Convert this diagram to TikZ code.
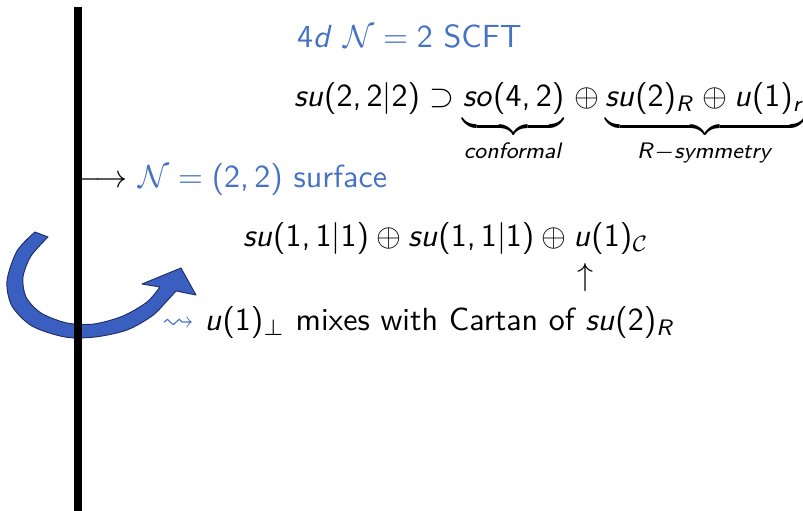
\documentclass[tikz,border=0pt]{standalone}
\usepackage{amssymb}
\DeclareSymbolFont{sfletters}{OT1}{cmss}{m}{sl}
\SetSymbolFont{operators}{normal}{OT1}{cmss}{m}{n}
\def\sfmathletter#1{\DeclareMathSymbol{#1}{\mathalpha}{sfletters}{`#1}}
\sfmathletter a\sfmathletter b\sfmathletter c\sfmathletter d\sfmathletter e
\sfmathletter f\sfmathletter g\sfmathletter h\sfmathletter i\sfmathletter l
\sfmathletter m\sfmathletter n\sfmathletter o\sfmathletter p\sfmathletter r
\sfmathletter s\sfmathletter t\sfmathletter u\sfmathletter v\sfmathletter w
\sfmathletter x\sfmathletter y\sfmathletter R
\DeclareMathSymbol{,}{\mathpunct}{operators}{`,}
\definecolor{titleblue}{RGB}{68,114,196}
\definecolor{arrowfill}{RGB}{59,95,192}
\definecolor{arrowline}{RGB}{31,47,100}
\begin{document}
\begin{tikzpicture}[x=0.3125pt,y=-0.3125pt,
  every node/.style={inner sep=0pt, outer sep=0pt, font=\sffamily},
  txt/.style={anchor=base west},
  bigarrow/.style={fill=arrowfill, draw=arrowline, line width=0.3pt, line join=round},
  surfacebar/.style={line width=2.5pt}]
\useasboundingbox (0,0) rectangle (803,511);
% curved blue arrow
\path[bigarrow] (35,232)
  -- plot[smooth] coordinates {(35,232) (17,251) (7,281) (12,306) (32,326) (65,337) (95,337) (127,330) (152,316) (166,302) (176,291)}
  -- (196,295) -- (181,268) -- (142,284)
  -- plot[smooth] coordinates {(160,287) (147,302) (123,316) (94,324) (67,323) (41,313) (26,297) (23,277) (31,256) (48,237)}
  -- cycle;
% vertical surface line
\coordinate (bartop) at (78,7);
\coordinate (barbot) at (78,511);
\draw[surfacebar] (bartop) -- (barbot);
% texts
\node[txt, text=titleblue] (title) at (297,48) {$4d$ $\mathcal{N}=2$ SCFT};
\node[txt] (sym) at (294,107) {$su(2,2|2)\supset\underbrace{so(4,2)}_{conformal}\,\oplus\underbrace{su(2)_R\oplus u(1)_r}_{R-symmetry}$};
\node[txt] (surf) at (76,188) {$\longrightarrow$ \textcolor{titleblue}{$\mathcal{N}=(2,2)$ surface}};
\node[txt] (two) at (243,247) {$su(1,1|1)\oplus su(1,1|1)\oplus u(1)_{\mathcal{C}}$};
\node[anchor=base] (up) at (585,286) {$\uparrow$};
\node[txt] (mix) at (162,331) {\textcolor{titleblue}{$\leadsto$} $u(1)_{\perp}$ mixes with Cartan of $su(2)_R$};
\end{tikzpicture}
\end{document}
